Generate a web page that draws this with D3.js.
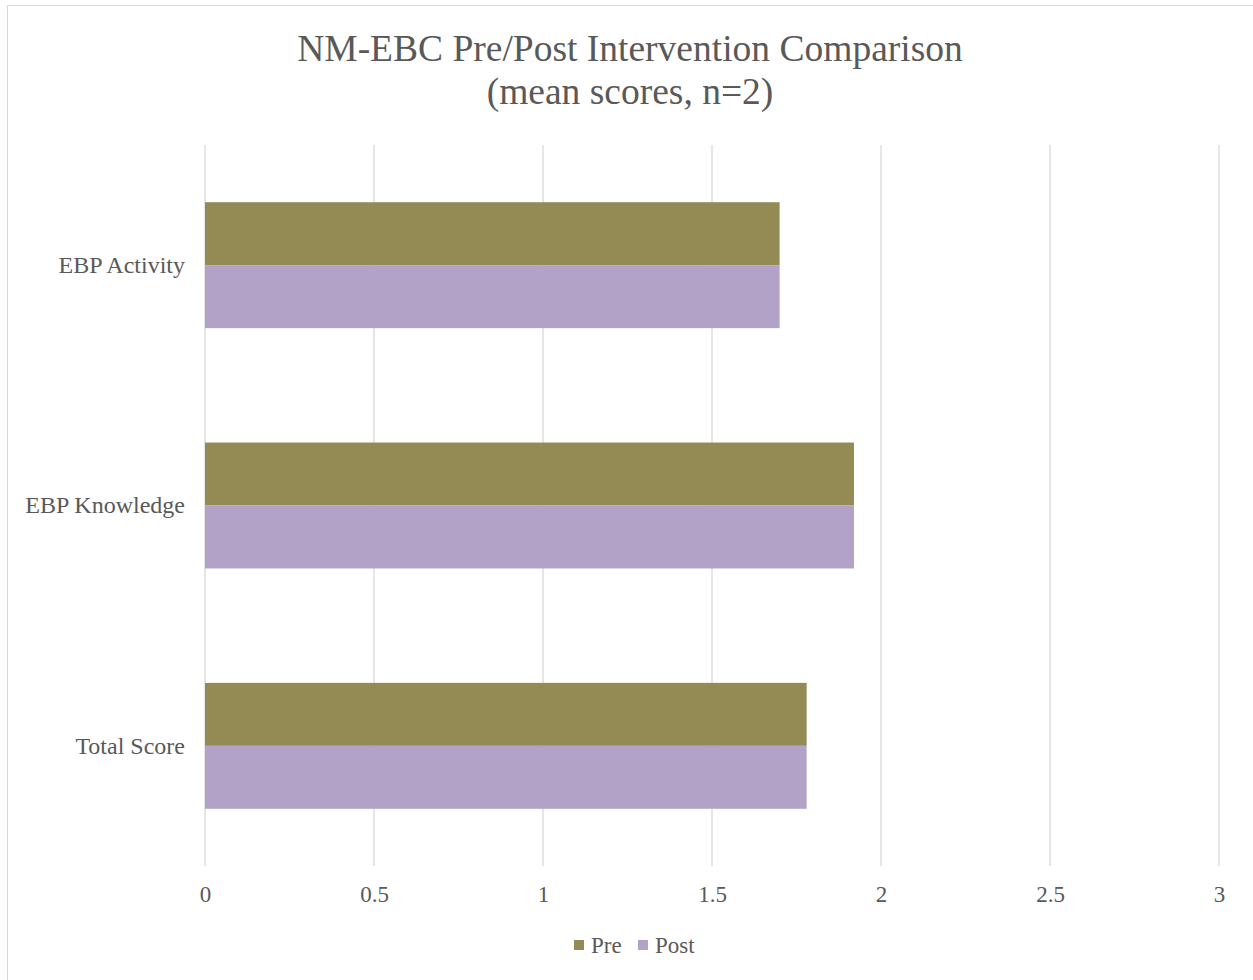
<!DOCTYPE html>
<html>
<head>
<meta charset="utf-8">
<script src="https://cdn.jsdelivr.net/npm/d3@7"></script>
<style>
  body { margin: 0; background: #fff; }
  text { font-family: "Times New Roman", "Liberation Serif", Times, serif; fill: #595959; }
</style>
</head>
<body>
<div id="chart"></div>
<script>
// chart data
const categories = ["EBP Activity", "EBP Knowledge", "Total Score"];
const seriesNames = ["Pre", "Post"];
const preValues = [1.70, 1.92, 1.78];
const postValues = [1.70, 1.92, 1.78];
const xTicks = [0, 0.5, 1, 1.5, 2, 2.5, 3];
const colors = { Pre: "#948a54", Post: "#b2a2c7" };

const W = 1253, H = 980;
const margin = { top: 145, right: 34, bottom: 114, left: 205 };
const width = W - margin.left - margin.right;
const height = H - margin.top - margin.bottom;

const svg = d3.select("#chart").append("svg")
    .attr("width", W)
    .attr("height", H);

// outer border
svg.append("rect")
    .attr("x", 7.5).attr("y", 5.5)
    .attr("width", W).attr("height", H)
    .attr("fill", "none")
    .attr("stroke", "#d9d9d9");

// title
const title = svg.append("text")
    .attr("text-anchor", "middle")
    .attr("font-size", 37.5);
title.append("tspan").attr("x", 630).attr("y", 61).text("NM-EBC Pre/Post Intervention Comparison");
title.append("tspan").attr("x", 630).attr("y", 104).text("(mean scores, n=2)");

const g = svg.append("g")
    .attr("transform", `translate(${margin.left},${margin.top})`);

const x = d3.scaleLinear().domain([0, 3]).range([0, 1014]);
const y = d3.scaleBand().domain(categories).range([0, height])
    .paddingInner(0.476).paddingOuter(0.238);
const ySub = d3.scaleBand().domain(seriesNames).range([0, y.bandwidth()]);

// gridlines
g.selectAll(".grid")
    .data(xTicks)
    .enter()
    .append("line")
    .attr("x1", d => x(d)).attr("x2", d => x(d))
    .attr("y1", 0).attr("y2", height)
    .attr("stroke", "#d9d9d9")
    .attr("stroke-width", 1.3);

// bars
const rows = categories.map((c, i) => ({ cat: c, Pre: preValues[i], Post: postValues[i] }));
const groups = g.selectAll(".row")
    .data(rows)
    .enter()
    .append("g")
    .attr("transform", d => `translate(0,${y(d.cat)})`);

groups.selectAll("rect")
    .data(d => seriesNames.map(s => ({ s: s, v: d[s] })))
    .enter()
    .append("rect")
    .attr("x", x(0))
    .attr("y", d => ySub(d.s))
    .attr("width", d => x(d.v) - x(0))
    .attr("height", ySub.bandwidth())
    .attr("fill", d => colors[d.s]);

// x axis labels
const xAxis = d3.axisBottom(x).tickValues(xTicks).tickSize(0).tickFormat(d3.format("~g"));
g.append("g")
    .attr("transform", `translate(0,${height})`)
    .call(xAxis)
    .call(a => a.select(".domain").remove())
    .call(a => a.selectAll("text")
        .attr("font-size", 23)
        .attr("dy", 0)
        .attr("y", 36)
        .style("fill", "#595959")
        .style("font-family", "'Times New Roman', 'Liberation Serif', serif"));

// y axis labels
const yAxis = d3.axisLeft(y).tickSize(0);
g.append("g")
    .call(yAxis)
    .call(a => a.select(".domain").remove())
    .call(a => a.selectAll("text")
        .attr("font-size", 24)
        .attr("x", -20)
        .style("fill", "#595959")
        .style("font-family", "'Times New Roman', 'Liberation Serif', serif"));

// legend
const legend = svg.append("g").attr("transform", "translate(574,945)");
const legendX = [0, 64];
seriesNames.forEach((s, i) => {
    const lg = legend.append("g").attr("transform", `translate(${legendX[i]},0)`);
    lg.append("rect")
        .attr("x", 0).attr("y", -5)
        .attr("width", 10).attr("height", 10)
        .attr("fill", colors[s]);
    lg.append("text")
        .attr("x", 17).attr("y", 8)
        .attr("font-size", 23)
        .text(s);
});
</script>
</body>
</html>
